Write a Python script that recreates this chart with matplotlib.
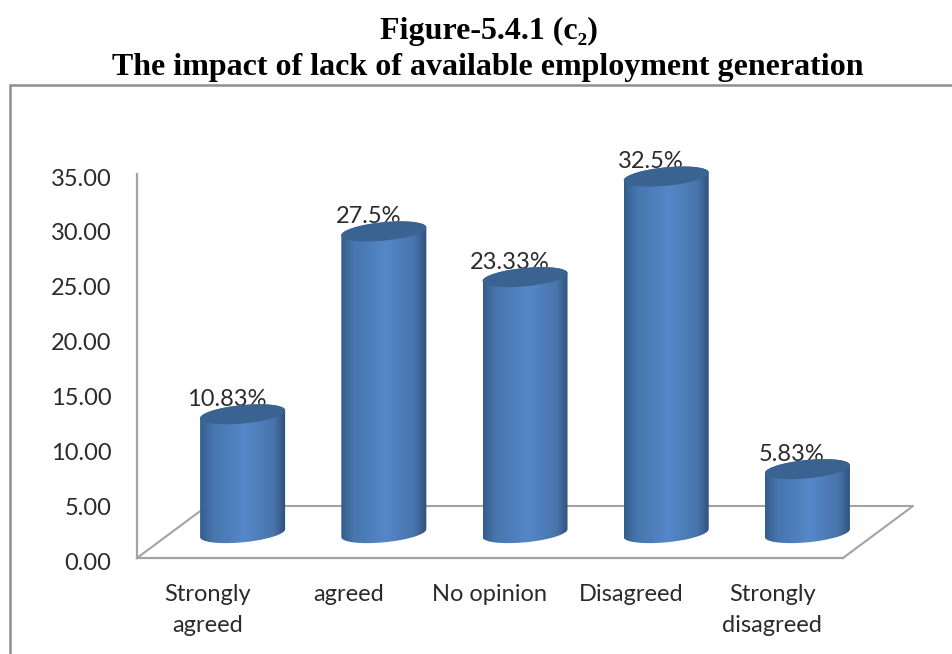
import numpy as np
import matplotlib
matplotlib.use("Agg")
import matplotlib.pyplot as plt
from matplotlib.colors import LinearSegmentedColormap
from matplotlib.patches import Polygon, Rectangle
from matplotlib.transforms import ScaledTranslation

categories = ["Strongly\nagreed", "agreed", "No opinion", "Disagreed", "Strongly\ndisagreed"]
values = [10.83, 27.5, 23.33, 32.5, 5.83]
y_ticks = [0, 5, 10, 15, 20, 25, 30, 35]

# depth of the fake 3d floor, in data units
DEPTH_X = 0.496
DEPTH_Y = 4.74
HALF_W = 0.301
CAP_B = 0.84
CAP_TILT = 0.36

GRAY = "#a3a3a3"
TEXT = "#2b2b2b"

side_cmap = LinearSegmentedColormap.from_list(
    "cyl", [(0, "#345d8e"), (0.15, "#4776ad"), (0.52, "#5587c9"),
            (0.86, "#4874ab"), (1, "#2f4f78")])


def ellipse(cx, cy, start=0, stop=2 * np.pi):
    t = np.linspace(start, stop, 90)
    return np.column_stack([cx + HALF_W * np.cos(t),
                            cy + CAP_B * np.sin(t) + CAP_TILT * np.cos(t)])


def draw_cylinder(ax, i, v):
    cx = i + DEPTH_X / 2
    base = DEPTH_Y / 2 - 0.1
    top = base + v
    # outline: bottom half of the base ellipse, top half of the cap
    outline = np.vstack([ellipse(cx, base, np.pi, 2 * np.pi),
                         ellipse(cx, top, 0, np.pi)])
    clip = Polygon(outline, closed=True, transform=ax.transData, fc="none", ec="none",
                   clip_on=False)
    ax.add_patch(clip)
    grad = np.linspace(0, 1, 256).reshape(1, -1)
    im = ax.imshow(grad, cmap=side_cmap, aspect="auto", zorder=3,
                   extent=[cx - HALF_W, cx + HALF_W, base - 2, top + 2])
    # the last bar runs past the axes box, so clip to the figure instead
    im.set_clip_box(ax.figure.bbox)
    im.set_clip_path(clip.get_path(), clip.get_transform())
    ax.add_patch(Polygon(ellipse(cx, top), closed=True, fc="#3b6391", ec="none",
                         zorder=4, clip_on=False))


fig = plt.figure(figsize=(9.53, 6.54), dpi=100)
fig.add_artist(Rectangle((10 / 953, -0.02), 1.1, (654 - 85) / 654 + 0.02,
                         transform=fig.transFigure, fc="none", ec="#8f8f8f", lw=1.8))

fig.text(489 / 953, 1 - 31 / 654, "Figure-5.4.1 (c\u2082)", ha="center", va="center",
         family=["Liberation Serif", "DejaVu Serif"], weight="bold", fontsize=23, color="black")
fig.text(488 / 953, 1 - 67 / 654, "The impact of lack of available employment generation",
         ha="center", va="center", family="Liberation Serif", weight="bold",
         fontsize=23, color="black")

ax = fig.add_axes([137 / 953, (654 - 558) / 654, 706 / 953, 384 / 654])
ax.patch.set_alpha(0)

for i, v in enumerate(values):
    draw_cylinder(ax, i, v)
    ax.text(i + 0.137, v + DEPTH_Y / 2 - 0.1 + 1.35, f"{v:g}%", ha="center", va="center",
            family="Lato", fontsize=17, color=TEXT, zorder=2, clip_on=False)

ax.set_xlim(-0.5, 4.5)
ax.set_ylim(0, 35)

# floor of the plot box
ax.plot([-0.5, -0.5 + DEPTH_X, 4.5 + DEPTH_X, 4.5], [0, DEPTH_Y, DEPTH_Y, 0],
        color=GRAY, lw=1.5, clip_on=False, zorder=1)

for side in ["top", "right"]:
    ax.spines[side].set_visible(False)
for side in ["left", "bottom"]:
    ax.spines[side].set_color(GRAY)
    ax.spines[side].set_linewidth(1.6)

ax.set_yticks(y_ticks, [f"{t:.2f}" for t in y_ticks])
ax.set_xticks(range(len(categories)), categories, linespacing=1.55)
ax.tick_params(axis="both", length=0, labelcolor=TEXT)
ax.tick_params(axis="y", pad=18.5, labelsize=17)
ax.tick_params(axis="x", pad=19, labelsize=17)
for lab in ax.get_xticklabels() + ax.get_yticklabels():
    lab.set_family("Lato")
# nudge the value axis labels just under their gridline level
nudge = ScaledTranslation(0, -3 / 100, fig.dpi_scale_trans)
for lab in ax.get_yticklabels():
    lab.set_transform(lab.get_transform() + nudge)

fig.savefig("out.png", dpi=100)
